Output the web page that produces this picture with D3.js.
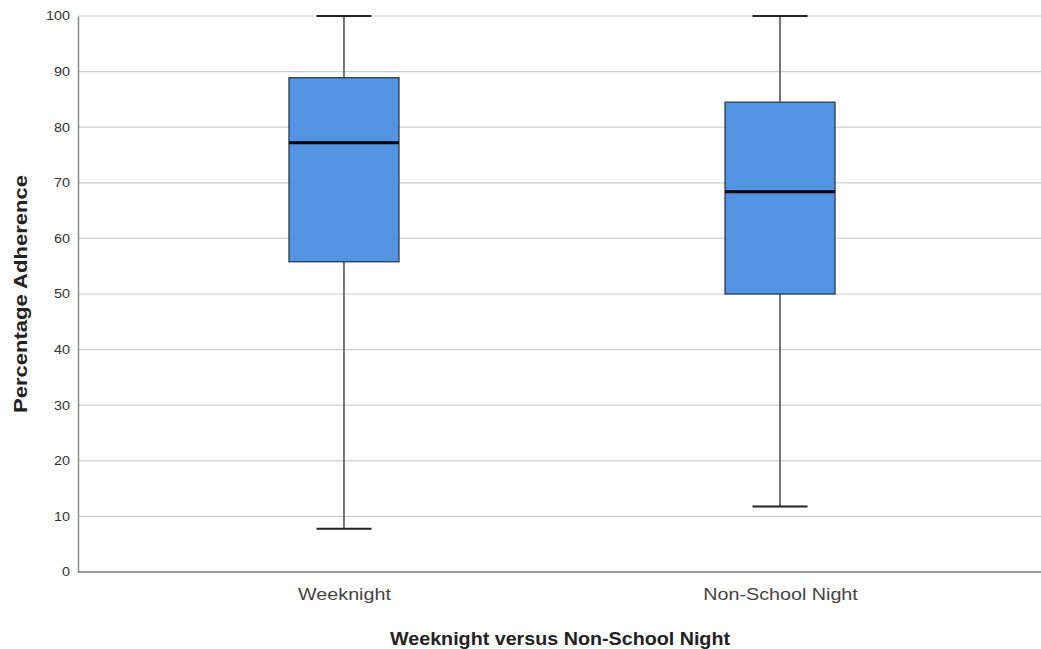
<!DOCTYPE html>
<html><head><meta charset="utf-8">
<script src="https://cdn.jsdelivr.net/npm/d3@7"></script>
<style>body{margin:0;background:#fff;}svg{display:block;font-family:"Liberation Sans",Arial,sans-serif;}</style>
</head><body>
<script>
const categories = ["Weeknight", "Non-School Night"];
const minVals = [7.8, 11.8];
const q1Vals = [55.8, 50.0];
const medianVals = [77.2, 68.4];
const q3Vals = [88.9, 84.5];
const maxVals = [100, 100];
const yTicks = [0,10,20,30,40,50,60,70,80,90,100];

const W = 1041, H = 649;
const svg = d3.select("body").append("svg").attr("width", W).attr("height", H);
const x = d3.scalePoint().domain(categories).range([78, 1046]).padding(0.61);
const y = d3.scaleLinear().domain([0, 100]).range([572, 16]);

function stretch(sel, factor) {
  sel.each(function() {
    const len = this.getComputedTextLength();
    d3.select(this).attr("textLength", len * factor).attr("lengthAdjust", "spacingAndGlyphs");
  });
}

// gridlines
svg.append("g").selectAll("line").data(yTicks.filter(d => d > 0)).join("line")
  .attr("x1", 78).attr("x2", W).attr("y1", d => y(d)).attr("y2", d => y(d))
  .attr("stroke", "#cfcfcf").attr("stroke-width", 1.2);

// y axis
const yAxis = svg.append("g").attr("transform", "translate(78,0)")
  .call(d3.axisLeft(y).tickValues(yTicks).tickSize(0).tickPadding(8));
yAxis.select(".domain").attr("stroke", "#8a8a8a").attr("stroke-width", 1.5);
yAxis.selectAll("text").attr("font-size", 12).attr("fill", "#333").attr("font-family", "\"Liberation Sans\",Arial,sans-serif");
stretch(yAxis.selectAll("text"), 1.2);

// x axis
const xAxis = svg.append("g").attr("transform", "translate(0,572)")
  .call(d3.axisBottom(x).tickSize(0).tickPadding(16));
xAxis.select(".domain").attr("d", `M78,0H${W}`).attr("stroke", "#777").attr("stroke-width", 1.5);
xAxis.selectAll("text").attr("font-size", 17).attr("fill", "#444").attr("font-family", "\"Liberation Sans\",Arial,sans-serif");
stretch(xAxis.selectAll("text"), 1.16);

const boxW = 110, capW = 55;
const data = categories.map((c, i) => ({c, min: minVals[i], q1: q1Vals[i], med: medianVals[i], q3: q3Vals[i], max: maxVals[i]}));
const g = svg.append("g").selectAll("g").data(data).join("g");
// whiskers
g.append("line").attr("x1", d => x(d.c)).attr("x2", d => x(d.c))
  .attr("y1", d => y(d.max)).attr("y2", d => y(d.q3)).attr("stroke", "#555").attr("stroke-width", 1.6);
g.append("line").attr("x1", d => x(d.c)).attr("x2", d => x(d.c))
  .attr("y1", d => y(d.q1)).attr("y2", d => y(d.min)).attr("stroke", "#555").attr("stroke-width", 1.6);
// caps
["max", "min"].forEach(k => {
  g.append("line").attr("x1", d => x(d.c) - capW/2).attr("x2", d => x(d.c) + capW/2)
    .attr("y1", d => y(d[k])).attr("y2", d => y(d[k])).attr("stroke", "#222").attr("stroke-width", 2);
});
// box
g.append("rect").attr("x", d => x(d.c) - boxW/2).attr("width", boxW)
  .attr("y", d => y(d.q3)).attr("height", d => y(d.q1) - y(d.q3))
  .attr("fill", "#5294e2").attr("stroke", "#2d3b4d").attr("stroke-width", 1.3);
// median
g.append("line").attr("x1", d => x(d.c) - boxW/2).attr("x2", d => x(d.c) + boxW/2)
  .attr("y1", d => y(d.med)).attr("y2", d => y(d.med)).attr("stroke", "#000").attr("stroke-width", 3);

// titles
svg.append("text").attr("x", 560).attr("y", 645).attr("text-anchor", "middle")
  .attr("font-size", 18).attr("font-weight", "bold").attr("fill", "#222")
  .attr("textLength", 340).attr("lengthAdjust", "spacingAndGlyphs")
  .text("Weeknight versus Non-School Night");
svg.append("text").attr("transform", "translate(27,294) rotate(-90)").attr("text-anchor", "middle")
  .attr("font-size", 18).attr("font-weight", "bold").attr("fill", "#222")
  .attr("textLength", 238).attr("lengthAdjust", "spacingAndGlyphs")
  .text("Percentage Adherence");
</script>
</body></html>
